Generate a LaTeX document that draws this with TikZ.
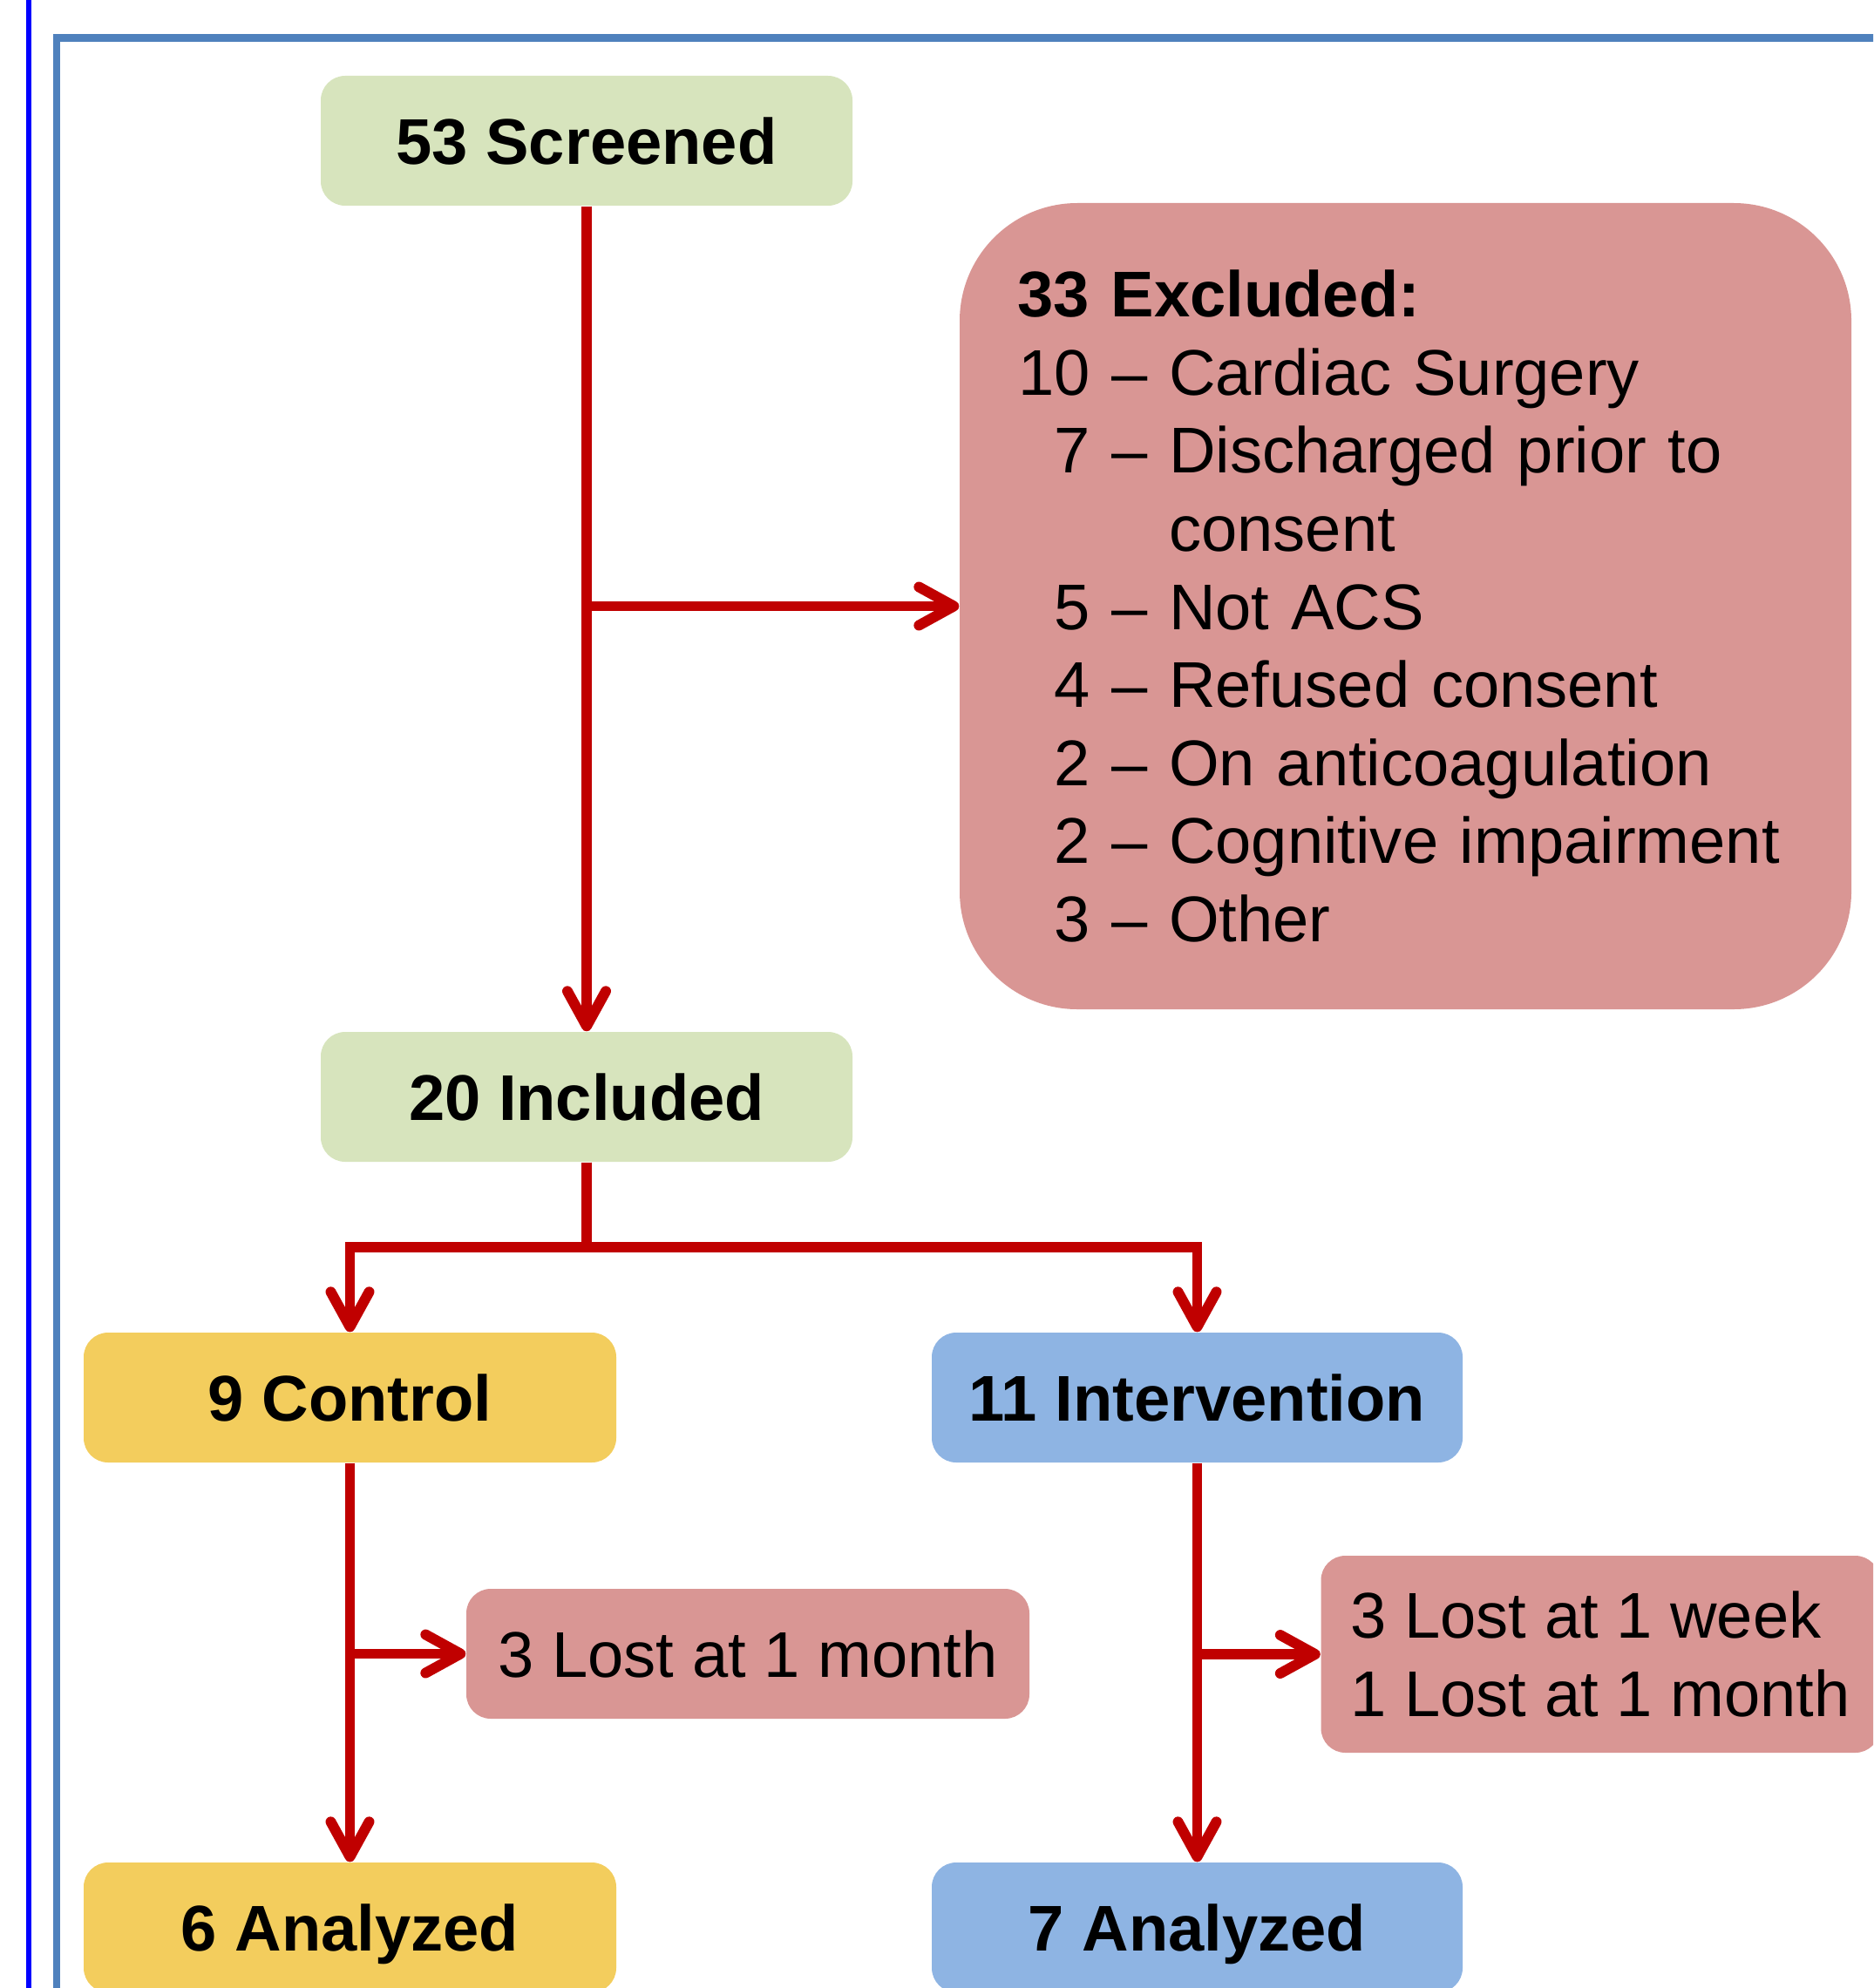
\documentclass[tikz,border=0pt]{standalone}
\usepackage{fontspec}
\setmainfont{Liberation Sans}
\usetikzlibrary{arrows.meta}
\definecolor{boxgreen}{HTML}{D7E4BD}
\definecolor{boxpink}{HTML}{D99694}
\definecolor{boxgold}{HTML}{F3CD5D}
\definecolor{boxblue}{HTML}{8EB4E3}
\definecolor{flowred}{HTML}{C00000}
\definecolor{frameblue}{HTML}{4F81BD}

\begin{document}
\begin{tikzpicture}[
    txt/.style={font=\fontsize{21.1pt}{25.5pt}\selectfont},
    box/.style={txt, rounded corners=0.28cm, inner sep=0pt, minimum width=6.1cm, minimum height=1.49cm,
      text height=15.2pt, text depth=0pt},
    title/.style={box, font=\fontsize{21.1pt}{25.5pt}\selectfont\bfseries},
    flow/.style={draw=flowred, line width=3.4pt, -{Straight Barb[length=4mm,width=4.4mm,round]}},
  ]
  \clip (0,0) rectangle (21.49,-22.81);
  % Frame
  \draw[blue, line width=1.6pt] (0.33,0.5) -- (0.33,-23.3);
  \draw[frameblue, line width=2.3pt] (0.65,-23.3) -- (0.65,-0.435) -- (22,-0.435);
  % Boxes
  \node[title, fill=boxgreen] (scr) at (6.73,-1.615) {53 Screened};
  \node[txt, fill=boxpink, rounded corners=1.35cm, inner sep=0pt, minimum width=10.23cm,
    minimum height=9.25cm, text width=8.9cm, align=left] (exc) at (16.125,-6.955)
    {\textbf{33 Excluded:}\\
     \makebox[1.12em][r]{10} -- Cardiac Surgery\\
     \makebox[1.12em][r]{7} -- Discharged prior to\\
     \phantom{\makebox[1.12em][r]{10} -- }consent\\
     \makebox[1.12em][r]{5} -- Not ACS\\
     \makebox[1.12em][r]{4} -- Refused consent\\
     \makebox[1.12em][r]{2} -- On anticoagulation\\
     \makebox[1.12em][r]{2} -- Cognitive impairment\\
     \makebox[1.12em][r]{3} -- Other};
  \node[title, fill=boxgreen] (inc) at (6.73,-12.585) {20 Included};
  \node[title, fill=boxgold, minimum width=6.11cm] (ctl) at (4.015,-16.035) {9 Control};
  \node[title, fill=boxblue, minimum width=6.09cm] (itv) at (13.735,-16.035) {11 Intervention};
  \node[box, fill=boxpink, minimum width=6.46cm] (lost1) at (8.58,-18.975) {3 Lost at 1 month};
  \node[txt, fill=boxpink, rounded corners=0.28cm, inner sep=0pt, minimum width=6.41cm,
    minimum height=2.26cm, align=left] (lost2) at (18.36,-18.98)
    {3 Lost at 1 week\\1 Lost at 1 month};
  \node[title, fill=boxgold, minimum width=6.11cm] (an1) at (4.015,-22.115) {6 Analyzed};
  \node[title, fill=boxblue, minimum width=6.09cm] (an2) at (13.735,-22.115) {7 Analyzed};
  % Arrows
  \draw[flow] (scr.south) -- (inc.north);
  \draw[flow] (scr.south |- exc.west) -- (exc.west);
  \draw[flow] (inc.south) -- ++(0,-0.97) -| (ctl.north);
  \draw[flow] (inc.south) -- ++(0,-0.97) -| (itv.north);
  \draw[flow] (ctl.south) -- (an1.north);
  \draw[flow] (ctl.south |- lost1.west) -- (lost1.west);
  \draw[flow] (itv.south) -- (an2.north);
  \draw[flow] (itv.south |- lost2.west) -- (lost2.west);
\end{tikzpicture}
\end{document}
